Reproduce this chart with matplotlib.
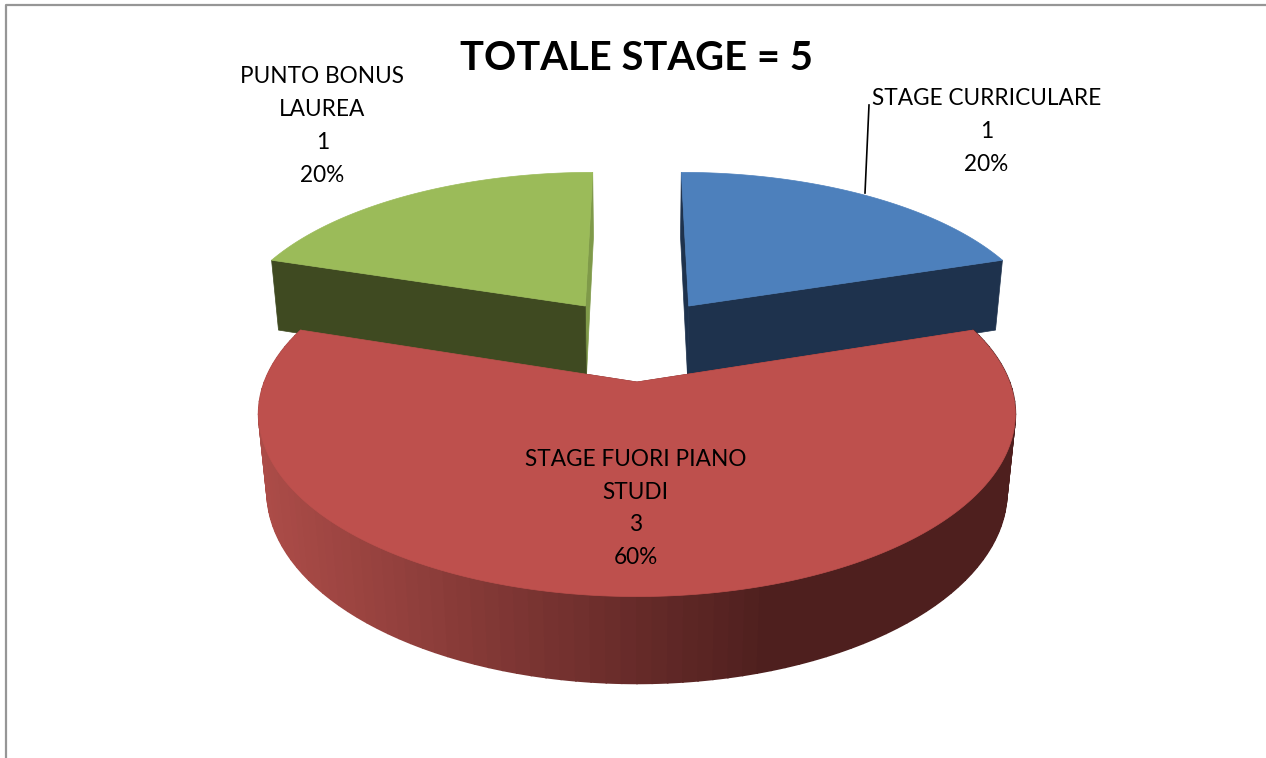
import numpy as np
import matplotlib
matplotlib.use("Agg")
import matplotlib.pyplot as plt

plt.rcParams['font.family'] = ['Lato', 'DejaVu Sans']

# dati
categorie = ["STAGE CURRICULARE", "STAGE FUORI PIANO\nSTUDI", "PUNTO BONUS\nLAUREA"]
valori = [1, 3, 1]
titolo = "TOTALE STAGE = 5"

colori_top = ["#4d80bc", "#be504d", "#9bbb59"]
colori_lato = ["#1e324d", "#6f2f2d", "#3f4a21"]
colori_lato_fine = ["#1e324d", "#6f2f2d", "#7f9a49"]
# spostamento delle fette (esplosione) nel piano della torta
offset = [(0.15, 0.464), (0.0, 0.0), (-0.15, 0.464)]
# raggio in larghezza e in profondita' di ogni fetta
raggi = [(1.015, 1.03), (1.0, 1.0), (1.015, 1.03)]


# prospettiva: X destra, D profondita', z spessore
def proietta(X, D, z=0.0):
    w = 1 + 0.175 * D + 0.022 * z
    return 637 + 372.5 * X / w, 382 + (-177 * D + 78.3 * z) / w


def arco(a, b, i, z=0.0, n=200):
    t = np.radians(np.linspace(a, b, n))
    ox, oy = offset[i]
    rx, rd = raggi[i]
    return proietta(ox + rx * np.cos(t), oy + rd * np.sin(t), z)


def sfuma_rosso(x):
    # lato rosso: chiaro a sinistra, scuro da x=770 in poi
    s = np.clip((x - 262) / (770 - 262), 0, 1)
    c0 = np.array([172, 76, 72]) / 255
    c1 = np.array([78, 31, 30]) / 255
    return tuple(c0 + (c1 - c0) * s)


fig = plt.figure(figsize=(12.66, 7.58), dpi=100)
ax = fig.add_axes([0, 0, 1, 1])
ax.set_xlim(0, 1266)
ax.set_ylim(758, 0)
ax.axis("off")

# bordo del grafico
ax.plot([6, 6, 1266], [758, 4.5, 4.5], color="#969696", lw=1.6)

# angoli di inizio/fine dai valori (senso orario da 90 gradi)
totale = sum(valori)
inizio = 90.0
fette = []
for v in valori:
    fine = inizio - 360.0 * v / totale
    fette.append((inizio, fine))
    inizio = fine

# fette dietro prima, quella rossa davanti
for i in [0, 2, 1]:
    a, b = fette[i]
    ox, oy = offset[i]
    xc, yc = proietta(ox, oy, 0)
    xc1, yc1 = proietta(ox, oy, 1)

    # facce interne
    for ang, col in ((b, colori_lato_fine[i]), (a, colori_lato[i])):
        x0, y0 = arco(ang, ang, i, 0, 1)
        x1, y1 = arco(ang, ang, i, 1, 1)
        ax.fill([xc, x0[0], x1[0], xc1], [yc, y0[0], y1[0], yc1], color=col, lw=0.5, zorder=2 + i)

    # lato curvo della fetta rossa a strisce
    if i == 1:
        angoli = np.linspace(b, a, 109)
        for a0, a1 in zip(angoli[:-1], angoli[1:]):
            x0, y0 = arco(a0, a1, i, 0, 6)
            x1, y1 = arco(a1, a0, i, 1, 6)
            ax.fill(np.r_[x0, x1], np.r_[y0, y1], color=sfuma_rosso(x0.mean()), lw=1.2, zorder=4)

    # faccia superiore
    xa, ya = arco(a, b, i, 0)
    ax.fill(np.r_[xc, xa], np.r_[yc, ya], color=colori_top[i], lw=0.5, zorder=5)

# etichette
testi = [f"{c}\n{v}\n{round(100 * v / totale)}%" for c, v in zip(categorie, valori)]
pos_testi = [(986.5, 131.5), (635.5, 508.5), (322.5, 126)]
for t, (x, y) in zip(testi, pos_testi):
    ax.text(x, y, t, ha="center", va="center", fontsize=16.3, color="black", linespacing=1.69, zorder=10)

# linea guida
ax.plot([869, 865], [105, 193], color="black", lw=1.2, zorder=9)

ax.text(637, 59, titolo, ha="center", va="center", fontsize=28.7, fontweight="bold", color="black", zorder=10)

fig.savefig("out.png", dpi=100, facecolor="white")
